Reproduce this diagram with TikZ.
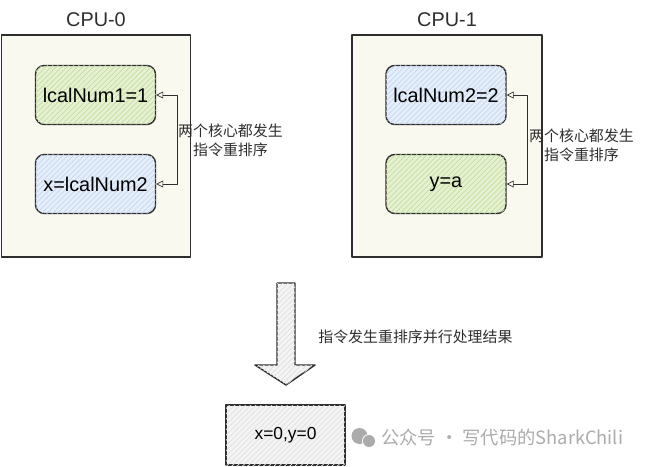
\documentclass[tikz,border=0pt]{standalone}
\usepackage{fontspec}
\setmainfont{Liberation Sans}
\newfontfamily\cjk{Noto Sans CJK SC}
\usetikzlibrary{arrows.meta,calc,patterns}
\definecolor{ink}{HTML}{2E2E2E}
\definecolor{paper}{HTML}{FAF9F0}
\definecolor{leaf}{HTML}{E6F1D3}
\definecolor{leafline}{HTML}{C3DF9E}
\definecolor{sky}{HTML}{E5EEF9}
\definecolor{skyline}{HTML}{C4D8F2}
\definecolor{ash}{HTML}{F4F4F4}
\definecolor{wmark}{HTML}{ABABAB}

\begin{document}
\begin{tikzpicture}[line cap=round,line join=round,
  cpu/.style={draw=ink,thick,fill=paper,minimum width=3.78cm,minimum height=4.44cm},
  title/.style={font=\fontsize{11.3}{13}\selectfont,text=ink},
  op/.style={draw=ink,thick,rounded corners=5pt,minimum width=2.4cm,minimum height=1.18cm,
    font=\fontsize{11.3}{13}\selectfont},
  green/.style={op,fill=leaf,postaction={pattern=north east lines,pattern color=leafline}},
  blue/.style={op,fill=sky,postaction={pattern=north east lines,pattern color=skyline}},
  note/.style={font=\cjk\fontsize{8.5}{10.8}\selectfont,align=center,text=ink,inner sep=0pt},
  swap/.style={draw=ink,{Triangle[open,length=4pt,width=4pt]}-{Triangle[open,length=4pt,width=4pt]}}]
  \useasboundingbox (0,0) rectangle (12.94,9.32);

  % two cores
  \node[cpu] (cpu0) at (1.92,6.40) {};
  \node[title] at (1.92,8.92) {CPU-0};
  \node[green] (a1) at (1.91,7.42) {lcalNum1=1};
  \node[blue] (a2) at (1.91,5.64) {x=lcalNum2};
  \draw[swap] (a1.east) -- ++(.42,0) |- (a2.east);
  \node[note] (n0) at (4.61,6.52) {两个核心都发生\\指令重排序};

  \node[cpu,minimum width=3.8cm] (cpu1) at (8.94,6.40) {};
  \node[title] at (8.94,8.92) {CPU-1};
  \node[blue] (b1) at (8.92,7.42) {lcalNum2=2};
  \node[green] (b2) at (8.92,5.64) {y=a};
  \draw[swap] (b1.east) -- ++(.42,0) |- (b2.east);
  \node[note] (n1) at (11.63,6.42) {两个核心都发生\\指令重排序};

  % result
  \draw[ink,thick,fill=ash,postaction={pattern=north east lines,pattern color=black!12}]
    (5.54,3.66) -- (5.90,3.66) -- (5.90,2.02) -- (6.30,2.02) -- (5.72,1.62)
    -- (5.10,2.02) -- (5.54,2.02) -- cycle;
  \node[note,anchor=west] (n2) at (6.36,2.58) {指令发生重排序并行处理结果};
  \node[draw=ink,thick,fill=ash,postaction={pattern=north east lines,pattern color=black!12},
    minimum width=2.38cm,minimum height=1.2cm,font=\fontsize{9.9}{12}\selectfont]
    (res) at (5.71,0.62) {x=0,y=0};

  % watermark
  \fill[wmark] (7.19,0.60) circle (.16);
  \fill[white] (7.38,0.50) circle (.14);
  \fill[wmark] (7.38,0.50) circle (.12);
  \node[font=\cjk\fontsize{10.4}{12}\selectfont,text=wmark,anchor=west,inner sep=0pt]
    (wm) at (7.62,0.56) {公众号 · 写代码的SharkChili};
\end{tikzpicture}
\end{document}
